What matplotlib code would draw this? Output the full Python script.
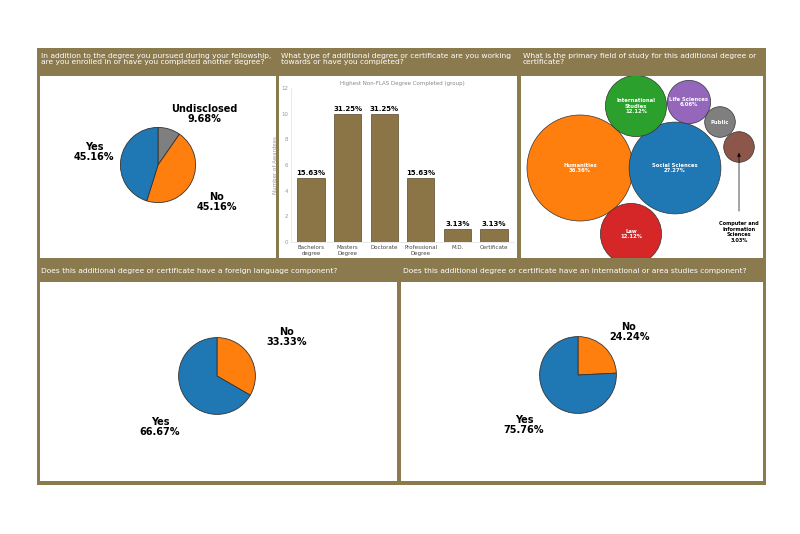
import matplotlib.pyplot as plt
from matplotlib.patches import Circle, Rectangle
import numpy as np

# data
enr_labels = ['Undisclosed', 'No', 'Yes']
enr_vals = [9.68, 45.16, 45.16]
deg_labels = ['Bachelors\ndegree', 'Masters\nDegree', 'Doctorate', 'Professional\nDegree', 'M.D.', 'Certificate']
deg_counts = [5, 10, 10, 5, 1, 1]
deg_pct = ['15.63%', '31.25%', '31.25%', '15.63%', '3.13%', '3.13%']
field_labels = ['Humanities', 'Social Sciences', 'International\nStudies', 'Law', 'Life Sciences', 'Public', 'Computer and\nInformation\nSciences']
field_vals = [36.36, 27.27, 12.12, 12.12, 6.06, 3.03, 3.03]
lang_labels = ['No', 'Yes']
lang_vals = [33.33, 66.67]
area_labels = ['No', 'Yes']
area_vals = [24.24, 75.76]

BROWN = '#8c7a4f'
BAR = '#8b7546'
BLUE, ORANGE, GRAY = '#1f77b4', '#ff7f0e', '#7f7f7f'

W, H = 800, 534
fig = plt.figure(figsize=(8, 5.34), dpi=100)

def ax_px(x0, y0, x1, y1):
    return fig.add_axes([x0 / W, 1 - y1 / H, (x1 - x0) / W, (y1 - y0) / H])

bg = ax_px(37, 48, 766, 485)
bg.set_axis_off()
bg.add_patch(Rectangle((0, 0), 1, 1, color=BROWN, transform=bg.transAxes))

panels = [(40, 76, 276, 258), (279, 76, 517, 258), (521, 76, 763, 258),
          (40, 282, 397, 481), (401, 282, 763, 481)]
for p in panels:
    a = ax_px(*p)
    a.set_xticks([]); a.set_yticks([])
    a.set_facecolor('white')
    for s in a.spines.values():
        s.set_visible(False)

tk = dict(color='white', fontsize=5.4, va='top', linespacing=1.05)
fig.text(41 / W, 1 - 53 / H, 'In addition to the degree you pursued during your fellowship,\nare you enrolled in or have you completed another degree?', **tk)
fig.text(281 / W, 1 - 53 / H, 'What type of additional degree or certificate are you working\ntowards or have you completed?', **tk)
fig.text(523 / W, 1 - 53 / H, 'What is the primary field of study for this additional degree or\ncertificate?', **tk)
fig.text(41 / W, 1 - 268 / H, 'Does this additional degree or certificate have a foreign language component?', **tk)
fig.text(403 / W, 1 - 268 / H, 'Does this additional degree or certificate have an international or area studies component?', **tk)

def pie(cx, cy, r, vals, labels, colors, lpos):
    a = ax_px(cx - r, cy - r, cx + r, cy + r)
    a.pie(vals, colors=colors, startangle=90, counterclock=False,
          wedgeprops=dict(edgecolor='#333333', linewidth=0.6))
    a.set_aspect('equal')
    for (lx, ly), lab, v in zip(lpos, labels, vals):
        fig.text(lx / W, 1 - ly / H, f'{lab}\n{v:.2f}%', ha='center', va='center',
                 fontsize=7, fontweight='bold', linespacing=1.05)

pie(158, 165, 47, enr_vals, enr_labels, [GRAY, ORANGE, BLUE],
    [(204, 114), (217, 202), (94, 152)])
pie(217, 376, 48, lang_vals, lang_labels, [ORANGE, BLUE],
    [(287, 337), (160, 427)])
pie(578, 375, 48, area_vals, area_labels, [ORANGE, BLUE],
    [(629, 332), (524, 425)])

# bar chart
bx = ax_px(291, 88, 514, 242)
x = np.arange(len(deg_counts))
bx.bar(x, deg_counts, width=0.75, color=BAR, edgecolor='#5a4a2a', linewidth=0.5)
for i, (c, p) in enumerate(zip(deg_counts, deg_pct)):
    bx.text(i, c + 0.15, p, ha='center', va='bottom', fontsize=5, fontweight='bold')
bx.set_ylim(0, 12)
bx.set_xlim(-0.55, 5.55)
bx.set_yticks(range(0, 13, 2))
bx.set_xticks(x, deg_labels)
bx.tick_params(labelsize=4, colors='#444444', length=0, pad=2)
bx.tick_params(axis='y', colors='#999999')
bx.set_ylabel('Number of Awardees', fontsize=4, color='#999999', labelpad=2)
bx.set_title('Highest Non-FLAS Degree Completed (group)', fontsize=4, color='#888888', pad=2)
for s in bx.spines.values():
    s.set_color('#e0e0e0'); s.set_linewidth(0.5)
bx.spines['top'].set_visible(False)
bx.spines['right'].set_visible(False)

# bubble chart
cx_ = ax_px(521, 76, 763, 258)
cx_.set_xlim(521, 763)
cx_.set_ylim(258, 76)
cx_.set_axis_off()
centers = [(580, 168), (675, 168), (636, 106), (631, 234), (689, 102), (720, 122), (739, 147)]
bcolors = [ORANGE, BLUE, '#2ca02c', '#d62728', '#9467bd', GRAY, '#8c564b']
k = 53 / np.sqrt(36.36)
for (px, py), v, c, lab in zip(centers, field_vals, bcolors, field_labels):
    cx_.add_patch(Circle((px, py), k * np.sqrt(v), facecolor=c, edgecolor='#333333', linewidth=0.5))
    if lab == 'Public':
        cx_.text(px, py, lab, ha='center', va='center', fontsize=3.8, color='white', fontweight='bold')
    elif lab.startswith('Computer'):
        cx_.annotate('', xy=(739, 150), xytext=(739, 214),
                     arrowprops=dict(arrowstyle='-|>', color='black', lw=0.5, mutation_scale=5))
        cx_.text(739, 232, f'{lab}\n{v:.2f}%', ha='center', va='center', fontsize=3.6, fontweight='bold')
    else:
        cx_.text(px, py, f'{lab}\n{v:.2f}%', ha='center', va='center', fontsize=3.8, color='white',
                 fontweight='bold', linespacing=1.2)

fig.savefig('out.png', dpi=100, facecolor='white')
